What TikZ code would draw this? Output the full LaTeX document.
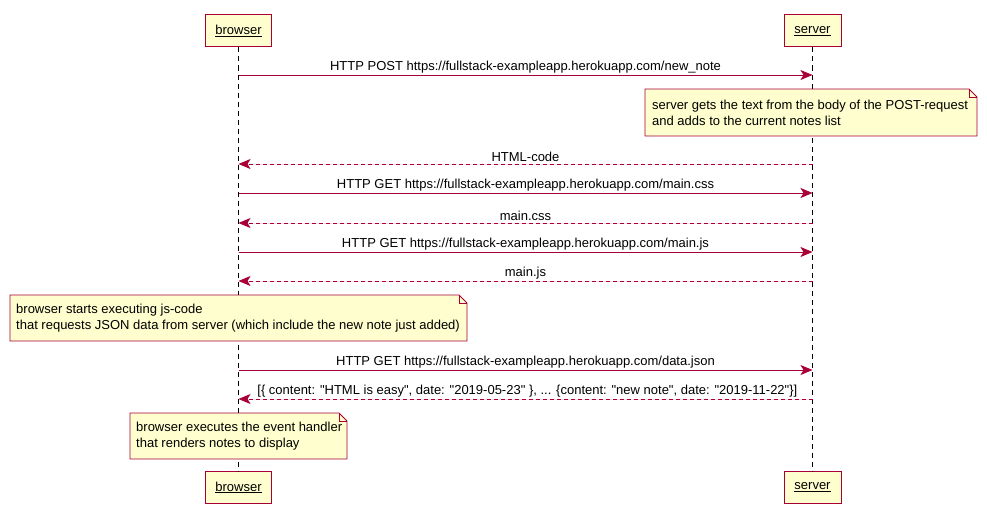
\documentclass[tikz,border=0pt]{standalone}
\usepackage{fontspec}
\setmainfont{Liberation Sans}
\usetikzlibrary{arrows.meta}
\definecolor{umlred}{HTML}{A80036}
\definecolor{umlfill}{HTML}{FEFECE}
\begin{document}
\begin{tikzpicture}[x=1pt, y=-1pt, font=\fontsize{13}{16}\selectfont]
        \tikzset{>={Stealth[length=12pt, width=10pt, inset=3pt]}}
        \tikzset{
          actor/.style={draw=umlred, fill=umlfill, line width=1pt, inner xsep=9.5pt, minimum height=32pt},
          lifeline/.style={draw=black, line width=0.7pt, dash pattern=on 5pt off 4pt},
          msg/.style={->, draw=umlred, fill=umlred, line width=0.8pt},
          ret/.style={msg, dash pattern=on 4pt off 3pt},
          lbl/.style={text=black, inner sep=1.5pt},
          notebox/.style={draw=umlred, fill=umlfill, line width=0.8pt},
          notetext/.style={align=left, inner sep=0pt, anchor=west}
        }
        \useasboundingbox (0,0) rectangle (987,527);
        % participants
        \node[actor] (browserTop) at (238.5,31) {\underline{browser}};
        \node[actor, minimum width=57pt] (serverTop) at (812.5,31) {\underline{server}};
        \node[actor] (browserBot) at (238.5,487.5) {\underline{browser}};
        \node[actor, minimum width=57pt] (serverBot) at (812.5,487.5) {\underline{server}};
        \draw[lifeline] (browserTop) -- (browserBot);
        \draw[lifeline] (serverTop) -- (serverBot);
        % message rows
        \foreach \n/\y in {r1/75, r2/164, r3/193, r4/223, r5/252, r6/281, r7/370, r8/399}
          \coordinate (\n) at (0,\y);
        \draw[msg] (browserTop |- r1) -- node[above, lbl] {HTTP POST https://fullstack-exampleapp.herokuapp.com/new\_note} (serverTop |- r1);
        % note on server
        \filldraw[notebox] (645,89) -- (969,89) -- (977,97) -- (977,136) -- (645,136) -- cycle;
        \draw[notebox, fill=none] (969,89) -- (969,97) -- (977,97);
        \node[notetext] (noteServer) at (652,112.5) {server gets the text from the body of the POST-request\\and adds to the current notes list};
        \draw[ret] (serverTop |- r2) -- node[above, lbl] {HTML-code} (browserTop |- r2);
        \draw[msg] (browserTop |- r3) -- node[above, lbl] {HTTP GET https://fullstack-exampleapp.herokuapp.com/main.css} (serverTop |- r3);
        \draw[ret] (serverTop |- r4) -- node[above, lbl] {main.css} (browserTop |- r4);
        \draw[msg] (browserTop |- r5) -- node[above, lbl] {HTTP GET https://fullstack-exampleapp.herokuapp.com/main.js} (serverTop |- r5);
        \draw[ret] (serverTop |- r6) -- node[above, lbl] {main.js} (browserTop |- r6);
        % note on browser
        \filldraw[notebox] (10,295) -- (459,295) -- (467,303) -- (467,341) -- (10,341) -- cycle;
        \draw[notebox, fill=none] (459,295) -- (459,303) -- (467,303);
        \node[notetext] (noteStart) at (16,318) {browser starts executing js-code\\that requests JSON data from server (which include the new note just added)};
        \draw[msg] (browserTop |- r7) -- node[above, lbl] {HTTP GET https://fullstack-exampleapp.herokuapp.com/data.json} (serverTop |- r7);
        \draw[ret] (serverTop |- r8) -- (browserTop |- r8)
          node[lbl, anchor=south west, xshift=17pt] {[\{ content: \textquotedbl HTML is easy\textquotedbl, date: \textquotedbl 2019-05-23\textquotedbl\ \}, ... \{content: \textquotedbl new note\textquotedbl, date: \textquotedbl 2019-11-22\textquotedbl\}]};
        % final note
        \filldraw[notebox] (130,413) -- (339,413) -- (347,421) -- (347,459) -- (130,459) -- cycle;
        \draw[notebox, fill=none] (339,413) -- (339,421) -- (347,421);
        \node[notetext] (noteHandler) at (136,436) {browser executes the event handler\\that renders notes to display};
\end{tikzpicture}
\end{document}
